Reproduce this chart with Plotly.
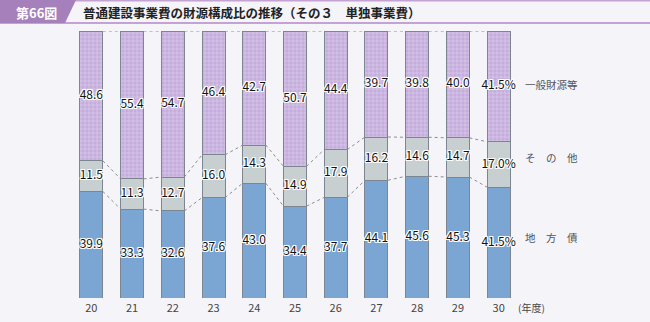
import plotly.graph_objects as go

# Fiscal years (Heisei) and composition shares (%)
years = ["20", "21", "22", "23", "24", "25", "26", "27", "28", "29", "30"]
local_bonds = [39.9, 33.3, 32.6, 37.6, 43.0, 34.4, 37.7, 44.1, 45.6, 45.3, 41.5]
other_funds = [11.5, 11.3, 12.7, 16.0, 14.3, 14.9, 17.9, 16.2, 14.6, 14.7, 17.0]
general_funds = [48.6, 55.4, 54.7, 46.4, 42.7, 50.7, 44.4, 39.7, 39.8, 40.0, 41.5]
series_names = ["地　方　債", "そ　の　他", "一般財源等"]

BG = "#f5f4f9"
FONT = "Noto Sans CJK JP"
W, H = 650, 322
ML, MR, MT, MB = 71, 131, 31, 24
PW, PH = W - ML - MR, H - MT - MB
BAR_W = 0.565

x = list(range(len(years)))
series = [local_bonds, other_funds, general_funds]
colors = ["#7ba6d4", "#c8cfd1", "#c4acdc"]

fig = go.Figure()
for vals, col, name in zip(series, colors, series_names):
    kw = {}
    if name == "一般財源等":
        kw["pattern"] = dict(shape="+", fgcolor="#f4eefa", size=4, solidity=0.3)
    fig.add_trace(go.Bar(
        x=x, y=vals, width=BAR_W, name=name,
        marker=dict(color=col, line=dict(color="#7d8590", width=1), **kw),
        showlegend=False, hoverinfo="skip",
    ))

# cumulative boundaries for connectors and label positions
cum1 = local_bonds
cum2 = [a + b for a, b in zip(local_bonds, other_funds)]
cum3 = [a + b + c for a, b, c in zip(local_bonds, other_funds, general_funds)]

for level in (cum1, cum2, cum3):
    cx, cy = [], []
    for i in range(len(x) - 1):
        cx += [x[i] + BAR_W / 2, x[i + 1] - BAR_W / 2, None]
        cy += [level[i], level[i + 1], None]
    fig.add_trace(go.Scatter(
        x=cx, y=cy, mode="lines", showlegend=False, hoverinfo="skip",
        line=dict(color="#8e8e8e", width=1, dash="dot"),
    ))

# value labels at the middle of each segment
halo = ("1px 1px 0 #fff, -1px -1px 0 #fff, 1px -1px 0 #fff, -1px 1px 0 #fff, "
        "0 1px 0 #fff, 0 -1px 0 #fff, 1px 0 0 #fff, -1px 0 0 #fff")
bases = [[0] * len(x), cum1, cum2]
for vals, base in zip(series, bases):
    labels = [f"{v:.1f}" + ("%" if i == len(vals) - 1 else "") for i, v in enumerate(vals)]
    fig.add_trace(go.Scatter(
        x=x, y=[b + v / 2 for b, v in zip(base, vals)], mode="text", text=labels,
        textfont=dict(family=FONT, size=12, color="#111111", shadow=halo),
        showlegend=False, hoverinfo="skip", cliponaxis=False,
    ))

def px_x(p):
    return (p - ML) / PW

def px_y(p):
    return (H - MB - p) / PH

shapes = [
    # header lines
    dict(type="rect", xref="paper", yref="paper", x0=px_x(0), x1=px_x(W), y0=px_y(1.5), y1=px_y(0),
         fillcolor="#c4a2d3", line=dict(width=0), layer="above"),
    dict(type="rect", xref="paper", yref="paper", x0=px_x(0), x1=px_x(W), y0=px_y(24), y1=px_y(22),
         fillcolor="#c4a2d3", line=dict(width=0), layer="above"),
    # header tab
    dict(type="path", xref="paper", yref="paper",
         path=f"M {px_x(0)} {px_y(0)} L {px_x(76)} {px_y(0)} L {px_x(65)} {px_y(23)} L {px_x(0)} {px_y(23)} Z",
         fillcolor="#a680ba", line=dict(width=0), layer="above"),
]

annotations = [
    dict(text="<b>第66図</b>", xref="paper", yref="paper", x=px_x(36), y=px_y(12),
         showarrow=False, font=dict(family=FONT, size=13, color="#ffffff"),
         xanchor="center", yanchor="middle"),
    dict(text="<b>普通建設事業費の財源構成比の推移（その３　単独事業費）</b>", xref="paper", yref="paper",
         x=px_x(81), y=px_y(12), showarrow=False,
         font=dict(family=FONT, size=12.5, color="#222222"), xanchor="left", yanchor="middle"),
    dict(text="(年度)", xref="paper", yref="paper", x=px_x(516), y=px_y(307),
         showarrow=False, font=dict(family=FONT, size=10, color="#444444"),
         xanchor="left", yanchor="middle"),
]
for name, py in zip(series_names, [237, 157, 84]):
    annotations.append(dict(
        text=name, xref="paper", yref="paper", x=px_x(523), y=px_y(py), showarrow=False,
        font=dict(family=FONT, size=10.5, color="#555555"), xanchor="left", yanchor="middle",
    ))

fig.update_layout(
    barmode="stack",
    width=W, height=H,
    margin=dict(l=ML, r=MR, t=MT, b=MB, autoexpand=False),
    paper_bgcolor=BG, plot_bgcolor=BG,
    xaxis=dict(range=[-0.5, len(x) - 0.5], tickvals=x, ticktext=years, showgrid=False,
               zeroline=False, showline=False, ticks="", ticklen=0, ticklabelstandoff=2,
               automargin=False,
               tickfont=dict(family=FONT, size=11, color="#444444")),
    yaxis=dict(range=[0, 100], visible=False, showgrid=False, zeroline=False, automargin=False),
    shapes=shapes,
    annotations=annotations,
    font=dict(family=FONT),
)

fig.write_html("out.html")
